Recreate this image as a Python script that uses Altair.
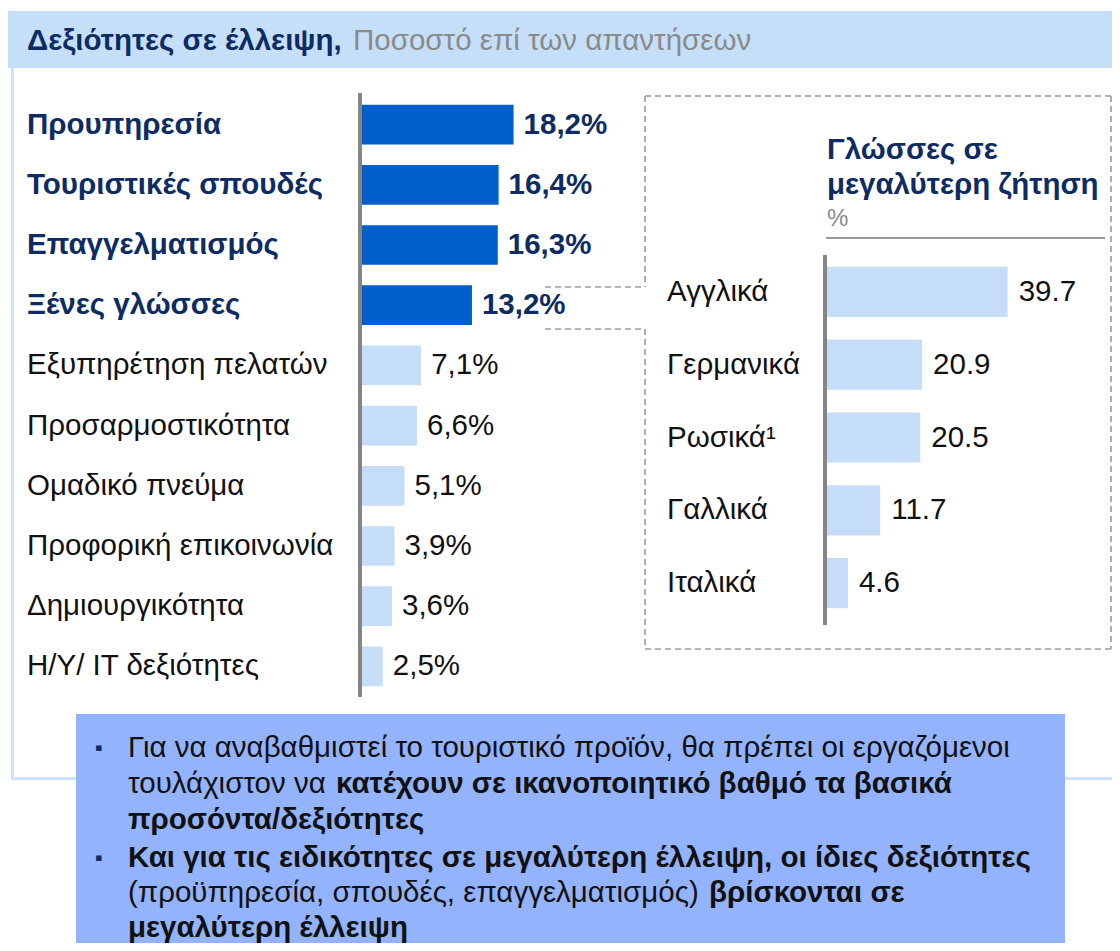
import altair as alt
import pandas as pd

# ---------------- data ----------------
skills = ["Προυπηρεσία", "Τουριστικές σπουδές", "Επαγγελματισμός", "Ξένες γλώσσες",
          "Εξυπηρέτηση πελατών", "Προσαρμοστικότητα", "Ομαδικό πνεύμα",
          "Προφορική επικοινωνία", "Δημιουργικότητα", "Η/Υ/ IT δεξιότητες"]
skill_values = [18.2, 16.4, 16.3, 13.2, 7.1, 6.6, 5.1, 3.9, 3.6, 2.5]
skill_highlight = [True, True, True, True, False, False, False, False, False, False]

languages = ["Αγγλικά", "Γερμανικά", "Ρωσικά¹", "Γαλλικά", "Ιταλικά"]
language_values = [39.7, 20.9, 20.5, 11.7, 4.6]

header_bold = "Δεξιότητες σε έλλειψη,"
header_light = "Ποσοστό επί των απαντήσεων"
inset_title = ["Γλώσσες σε", "μεγαλύτερη ζήτηση"]
inset_unit = "%"

# ---------------- style ----------------
FONT = "Liberation Sans"
FS = 29.5
NAVY = "#0d2c64"
DARK_BAR = "#0060c9"
LIGHT_BAR = "#c6ddf7"
BAND = "#c6dff9"
FRAME = "#cde2fa"
CALLOUT = "#93b3fd"
DASH = "#9a9a9a"
AXIS = "#858585"
W, H = 1104, 935

skill_df = pd.DataFrame({
    "skill": skills,
    "value": skill_values,
    "hl": skill_highlight,
    "label": [f"{v:.1f}".replace(".", ",") + "%" for v in skill_values],
    "fill": [DARK_BAR if h else LIGHT_BAR for h in skill_highlight],
})
lang_df = pd.DataFrame({
    "lang": languages,
    "value": language_values,
    "label": [f"{v:.1f}" for v in language_values],
})


def pix_text(rows, **kw):
    df = pd.DataFrame(rows, columns=["x", "y", "t"])
    return alt.Chart(df).mark_text(align="left", baseline="middle", font=FONT, **kw).encode(
        x=alt.X("x:Q", scale=None, axis=None),
        y=alt.Y("y:Q", scale=None, axis=None),
        text="t:N",
    )


# ---------------- decorations ----------------
rects = pd.DataFrame([
    # x, x2, y, y2, fill
    (3, 6, 60, 772, FRAME),          # frame left
    (3, W, 769, 772, FRAME),         # frame bottom
    (0, W, 3, 60, BAND),             # header band
    (68, 1057, 706, H, CALLOUT),     # callout box
    (350, 354, 85, 689, AXIS),       # left axis line
    (815, 819, 247, 617, AXIS),      # inset axis line
], columns=["x", "x2", "y", "y2", "fill"])

rect_layer = alt.Chart(rects).mark_rect().encode(
    x=alt.X("x:Q", scale=None, axis=None), x2="x2:Q",
    y=alt.Y("y:Q", scale=None, axis=None), y2="y2:Q",
    fill=alt.Fill("fill:N", scale=None),
)

dashes = pd.DataFrame([
    (637, 1103, 88, 88),
    (1103, 1103, 88, 641),
    (637, 1103, 641, 641),
    (637, 637, 88, 279),
    (537, 637, 279, 279),
    (537, 637, 321, 321),
    (637, 637, 321, 641),
], columns=["x", "x2", "y", "y2"])
dash_layer = alt.Chart(dashes).mark_rule(color=DASH, strokeWidth=1.6, strokeDash=[6, 4]).encode(
    x=alt.X("x:Q", scale=None, axis=None), x2="x2:Q",
    y=alt.Y("y:Q", scale=None, axis=None), y2="y2:Q",
)

underline = pd.DataFrame([(818, 1097, 230, 230)], columns=["x", "x2", "y", "y2"])
underline_layer = alt.Chart(underline).mark_rule(color="#777777", strokeWidth=1.5).encode(
    x=alt.X("x:Q", scale=None, axis=None), x2="x2:Q",
    y=alt.Y("y:Q", scale=None, axis=None), y2="y2:Q",
)

# ---------------- left chart ----------------
sx = alt.Scale(domain=[0, 20], range=[354, 520.6])
sy = alt.Scale(domain=skills, range=[86.5, 688.5], paddingInner=0.34, paddingOuter=0.17)
X = alt.X("value:Q", scale=sx, axis=None)
Y = alt.Y("skill:N", scale=sy, axis=None)

bars = alt.Chart(skill_df).mark_bar().encode(x=X, y=Y, fill=alt.Fill("fill:N", scale=None))
val_hl = alt.Chart(skill_df).transform_filter("datum.hl").mark_text(
    align="left", baseline="middle", dx=10, font=FONT, fontSize=FS, fontWeight="bold", color=NAVY
).encode(x=X, y=Y, text="label:N")
val_lo = alt.Chart(skill_df).transform_filter("!datum.hl").mark_text(
    align="left", baseline="middle", dx=10, font=FONT, fontSize=FS, color="#111111"
).encode(x=X, y=Y, text="label:N")
lab_hl = alt.Chart(skill_df).transform_filter("datum.hl").mark_text(
    align="left", baseline="middle", font=FONT, fontSize=FS, fontWeight="bold", color=NAVY
).encode(x=alt.value(19), y=Y, text="skill:N")
lab_lo = alt.Chart(skill_df).transform_filter("!datum.hl").mark_text(
    align="left", baseline="middle", font=FONT, fontSize=FS, color="#111111"
).encode(x=alt.value(19), y=Y, text="skill:N")

# ---------------- inset chart ----------------
lx = alt.Scale(domain=[0, 40], range=[819, 1001])
ly = alt.Scale(domain=languages, range=[247.5, 611.5], paddingInner=0.31, paddingOuter=0.155)
LX = alt.X("value:Q", scale=lx, axis=None)
LY = alt.Y("lang:N", scale=ly, axis=None)
lbars = alt.Chart(lang_df).mark_bar(color=LIGHT_BAR).encode(x=LX, y=LY)
lvals = alt.Chart(lang_df).mark_text(
    align="left", baseline="middle", dx=11, font=FONT, fontSize=FS, color="#111111"
).encode(x=LX, y=LY, text="label:N")
llabs = alt.Chart(lang_df).mark_text(
    align="left", baseline="middle", font=FONT, fontSize=FS, color="#111111"
).encode(x=alt.value(659), y=LY, text="lang:N")

# ---------------- texts ----------------
texts = [
    pix_text([(19, 33, header_bold)], fontSize=FS, fontWeight="bold", color=NAVY),
    pix_text([(345, 33, header_light)], fontSize=FS, color="#8a8a8a"),
    pix_text([(819, 142, inset_title[0]), (819, 177, inset_title[1])],
             fontSize=FS, fontWeight="bold", color=NAVY),
    pix_text([(819, 211, inset_unit)], fontSize=24, color="#8a8a8a"),
    # callout bullets
    pix_text([(87, 740, "▪"), (87, 850, "▪")], fontSize=22, color=NAVY),
    # callout regular text
    pix_text([
        (120, 740, "Για να αναβαθμιστεί το τουριστικό προϊόν, θα πρέπει οι εργαζόμενοι"),
        (120, 776, "τουλάχιστον να"),
        (120, 885, "(προϋπηρεσία, σπουδές, επαγγελματισμός)"),
    ], fontSize=FS, color="#111111"),
    # callout bold text
    pix_text([
        (328, 776, "κατέχουν σε ικανοποιητικό βαθμό τα βασικά"),
        (120, 812, "προσόντα/δεξιότητες"),
        (120, 850, "Και για τις ειδικότητες σε μεγαλύτερη έλλειψη, οι ίδιες δεξιότητες"),
        (701, 885, "βρίσκονται σε"),
        (120, 920, "μεγαλύτερη έλλειψη"),
    ], fontSize=FS, fontWeight="bold", color="#111111"),
]

chart = alt.layer(
    rect_layer, dash_layer, underline_layer,
    bars, val_hl, val_lo, lab_hl, lab_lo,
    lbars, lvals, llabs,
    *texts,
).resolve_scale(x="independent", y="independent", fill="independent").properties(
    width=W, height=H, padding=0,
    autosize=alt.AutoSizeParams(type="none"),
).configure_view(stroke=None)

chart.save("out.html", embed_options={"renderer": "svg", "actions": False})
